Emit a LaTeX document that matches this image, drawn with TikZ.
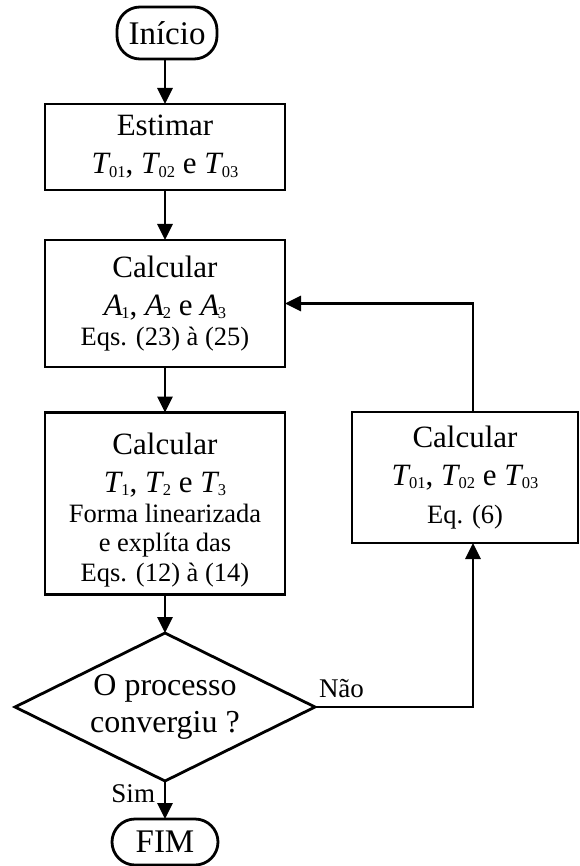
\documentclass[tikz,border=0pt]{standalone}
\usepackage{fontspec}
\setmainfont{Liberation Serif}
\usetikzlibrary{arrows.meta,shapes.geometric}
\newcommand{\Sb}[2]{\textit{#1}\kern-1.5pt\raisebox{-3.5pt}{\fontsize{16.5}{16.5}\selectfont #2}}
\newcommand{\Eqf}{\fontsize{26.5}{29}\selectfont}
\begin{document}
\begin{tikzpicture}[x=1pt,y=-1pt,
  every node/.style={inner sep=0pt, outer sep=0pt},
  lw/.style={line width=2.8pt},
  proc/.style={draw, lw, rectangle, minimum width=240pt, align=center, font=\fontsize{31}{38}\selectfont},
  term/.style={draw, lw, rectangle, rounded corners=23pt, font=\fontsize{33}{36}\selectfont},
  dec/.style={draw, lw, diamond, aspect=2.03, minimum width=300pt, minimum height=148pt, align=center, font=\fontsize{32}{37}\selectfont},
  lbl/.style={font=\fontsize{27}{30}\selectfont},
  arr/.style={lw, -{Triangle[length=16pt,width=15pt]}}
]
\useasboundingbox (0,0) rectangle (580,866);
\node[term, minimum width=100pt, minimum height=52pt] (ini) at (167,33) {Início};
\node[proc, minimum height=86pt] (est) at (165,147) {Estimar\\ \Sb{T}{01}, \Sb{T}{02} e \Sb{T}{03}};
\node[proc, minimum height=127pt] (ca) at (165,303.5) {Calcular\\ \Sb{A}{1}, \Sb{A}{2} e \Sb{A}{3}\\[-8pt] {\Eqf Eqs. (23) à (25)}};
\node[proc, minimum height=182pt] (ct) at (165,503.5) {\rule{0pt}{34pt}Calcular\\ \Sb{T}{1}, \Sb{T}{2} e \Sb{T}{3}\\[-8pt] {\Eqf Forma linearizada}\\[-9pt] {\Eqf e explíta das}\\[-8pt] {\Eqf Eqs. (12) à (14)}};
\node[dec] (dc) at (165,707) {O processo\\convergiu ?};
\node[term, minimum width=106pt, minimum height=46pt] (fim) at (165,842) {FIM};
\node[proc, minimum width=226pt, minimum height=131pt] (c0) at (465,477.5) {Calcular\\ \Sb{T}{01}, \Sb{T}{02} e \Sb{T}{03}\\ {\Eqf Eq. (6)}};
\coordinate (lx) at (473,0);
\draw[arr] (est.north |- ini.south) -- (est.north);
\draw[arr] (est) -- (ca);
\draw[arr] (ca) -- (ct);
\draw[arr] (ct) -- (dc);
\draw[arr] (dc.south) -- (fim.north);
\draw[arr] (dc.east) -- (dc.east -| lx) -- (c0.south -| lx);
\draw[arr] (c0.north -| lx) |- (ca.east);
\node[lbl, anchor=base west] (nao) at (319,697) {Não};
\node[lbl, anchor=base east] (sim) at (155,802) {Sim};
\end{tikzpicture}
\end{document}
